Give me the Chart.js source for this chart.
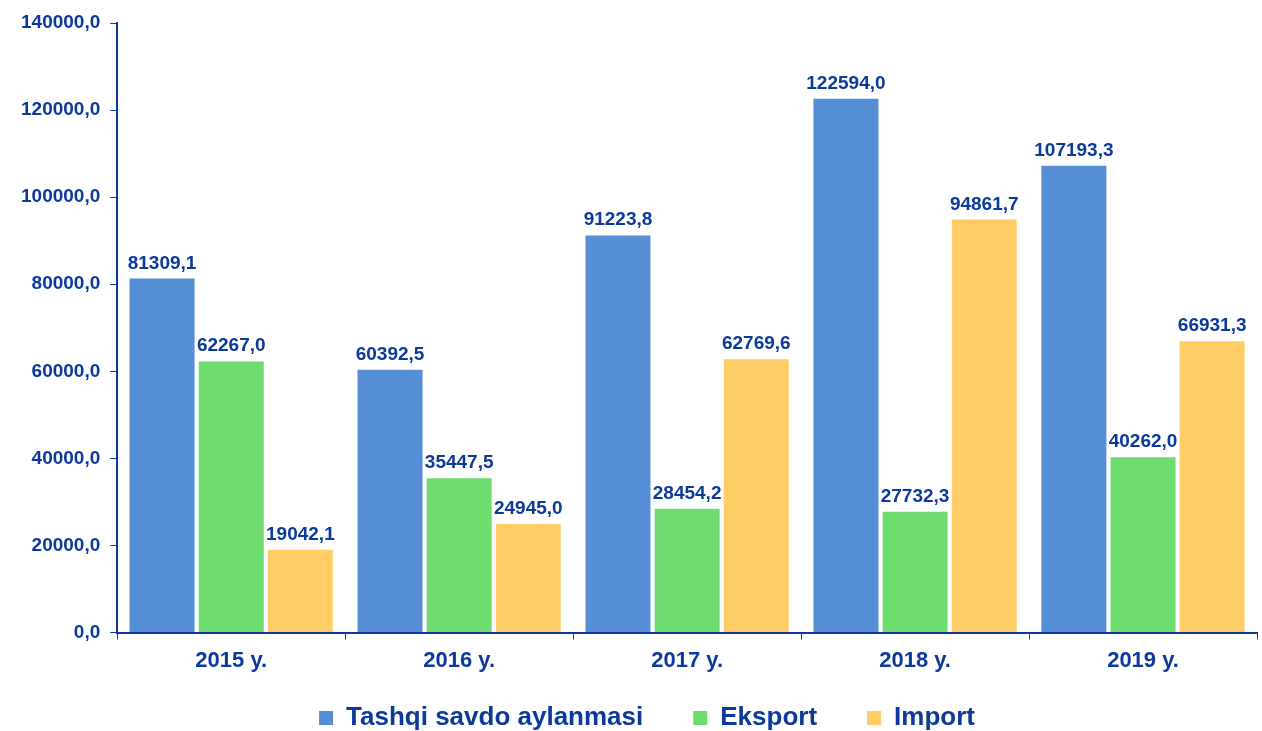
<!DOCTYPE html>
<html>
<head>
<meta charset="utf-8">
<script src="https://cdn.jsdelivr.net/npm/chart.js@4.4.1/dist/chart.umd.min.js"></script>
<style>
  body { margin: 0; background: #fff; }
  #wrap { width: 1262px; height: 731px; }
</style>
</head>
<body>
<div id="wrap"><canvas id="chart"></canvas></div>
<script>
// Years on x axis
const years = ["2015 y.", "2016 y.", "2017 y.", "2018 y.", "2019 y."];

// Values per series
const turnover = [81309.1, 60392.5, 91223.8, 122594.0, 107193.3];
const exportVals = [62267.0, 35447.5, 28454.2, 27732.3, 40262.0];
const importVals = [19042.1, 24945.0, 62769.6, 94861.7, 66931.3];

const seriesNames = ["Tashqi savdo aylanmasi", "Eksport", "Import"];
const navy = "#0b3a9b";
const fontFam = "'Liberation Sans', Arial, sans-serif";

function fmt(v) {
  return Number(v).toFixed(1).replace(".", ",");
}

// draws value labels above each bar
const valueLabels = {
  id: "valueLabels",
  afterDatasetsDraw(chart) {
    const ctx = chart.ctx;
    ctx.save();
    ctx.font = "bold 19px " + fontFam;
    ctx.fillStyle = navy;
    ctx.textAlign = "center";
    ctx.textBaseline = "alphabetic";
    chart.data.datasets.forEach((ds, i) => {
      chart.getDatasetMeta(i).data.forEach((bar, j) => {
        ctx.fillText(fmt(ds.data[j]), bar.x, bar.y - 10);
      });
    });
    ctx.restore();
  },
};

// legend box is kept short for layout, then its top is raised so the
// wide item padding still fits and the row sits near the bottom edge
const legendShift = {
  id: "legendShift",
  afterLayout(chart) {
    chart.legend.top = chart.legend.bottom - 76;
    chart.legend.left += 26;
  },
};

const ctx = document.getElementById("chart").getContext("2d");

new Chart(ctx, {
  type: "bar",
  data: {
    labels: years,
    datasets: [
      { label: seriesNames[0], data: turnover, backgroundColor: "#558ed5" },
      { label: seriesNames[1], data: exportVals, backgroundColor: "#6fdc6f" },
      { label: seriesNames[2], data: importVals, backgroundColor: "#ffcc66" },
    ],
  },
  options: {
    responsive: true,
    maintainAspectRatio: false,
    animation: false,
    layout: { padding: { top: 23, right: 5, left: 11, bottom: 0 } },
    datasets: {
      bar: { categoryPercentage: 0.91, barPercentage: 0.94 },
    },
    plugins: {
      tooltip: { enabled: false },
      legend: {
        position: "bottom",
        maxHeight: 49,
        labels: {
          color: navy,
          font: { family: fontFam, size: 26, weight: "bold" },
          boxWidth: 14,
          boxHeight: 14,
          padding: 50,
        },
      },
    },
    scales: {
      x: {
        grid: { display: true, drawOnChartArea: false, drawTicks: true, tickLength: 7, color: navy, offset: true },
        border: { color: navy, width: 2 },
        ticks: {
          color: navy,
          padding: 8,
          font: { family: fontFam, size: 22, weight: "bold" },
        },
      },
      y: {
        min: 0,
        max: 140000,
        grid: { drawOnChartArea: false, tickLength: 7, color: navy },
        border: { color: navy, width: 2 },
        ticks: {
          stepSize: 20000,
          color: navy,
          padding: 10,
          font: { family: fontFam, size: 19, weight: "bold" },
          callback: (v) => fmt(v),
        },
      },
    },
  },
  plugins: [valueLabels, legendShift],
});
</script>
</body>
</html>
